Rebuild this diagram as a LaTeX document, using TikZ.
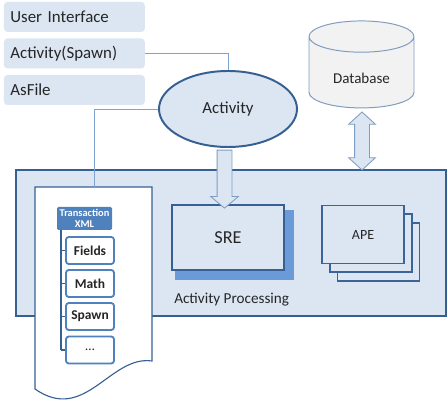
\documentclass[tikz,border=0pt]{standalone}
\usepackage{fontspec}
\setmainfont{Carlito}
\usetikzlibrary{positioning, arrows.meta, shapes.geometric, shapes.arrows, calc}
\definecolor{lightbox}{HTML}{DCE6F2}
\definecolor{border}{HTML}{376092}
\definecolor{midblue}{HTML}{4F81BD}
\definecolor{shadowblue}{HTML}{6A9BD8}
\definecolor{wire}{HTML}{7FA3D0}
\definecolor{thinline}{HTML}{7F9CC3}
\definecolor{dbfill}{HTML}{F2F2F2}
\definecolor{ink}{HTML}{262626}

\begin{document}
\begin{tikzpicture}[
  font=\fontsize{10.8}{12}\selectfont,
  text=ink,
  menubox/.style={rectangle, rounded corners=2.5pt, fill=lightbox, text width=3.2cm, inner xsep=0.16cm, inner ysep=0pt, minimum height=0.75cm, align=left, font=\fontsize{12}{14}\selectfont},
  wireline/.style={draw=wire, line width=0.7pt},
  blockarrow/.style={draw=thinline, fill=lightbox, line width=0.6pt, inner sep=0pt},
  itembox/.style={rectangle, rounded corners=2pt, draw=midblue, fill=white, line width=1.3pt, minimum width=1.2cm, minimum height=0.675cm, inner sep=0pt, font=\fontsize{9.6}{11}\selectfont\bfseries},
  apebox/.style={rectangle, draw=border!85!midblue, fill=lightbox, line width=0.8pt, minimum width=2.05cm, minimum height=1.45cm, inner sep=0pt}
]
  \useasboundingbox (0,0) rectangle (11.2,10.05);
  \fill[white] (0,0) rectangle (11.2,10.05);
  % menu
  \node[menubox] (userif) at (1.86,9.625) {User Interface};
  \node[menubox] (spawn) at (1.86,8.7125) {Activity(Spawn)};
  \node[menubox] (asfile) at (1.86,7.80) {AsFile};
  % processing panel
  \node[rectangle, draw=border, fill=lightbox, line width=1.2pt, minimum width=10.75cm, minimum height=3.65cm, inner sep=0pt] (panel) at (5.775,3.975) {};
  \node[anchor=west, inner sep=0pt] (proclbl) at (4.35,2.55) {Activity Processing};
  % document
  \draw[draw=border, fill=white, line width=0.8pt] (0.875,5.375) -- (3.80,5.375) -- (3.80,1.025)
    .. controls (2.75,1.175) and (2.125,-0.55) .. (0.875,0.325) -- cycle;
  \coordinate (doctop) at (2.35,5.375);
  \node[rectangle, rounded corners=1pt, fill=midblue, minimum width=1.375cm, minimum height=0.575cm, inner sep=0pt, align=center, text=white, font=\fontsize{7.4}{8}\selectfont\bfseries] (xml) at (2.1125,4.5875) {Transaction\\XML};
  \coordinate (trunk) at (1.525,4.30);
  \foreach \name/\yy [count=\r from 0] in {Fields/3.7875, Math/2.9625, Spawn/2.1375, {\mdseries\ldots}/1.30} {
    \node[itembox] (item\r) at (2.25,\yy) {\name};
    \draw[draw=border, line width=1.1pt] (trunk |- item\r.west) -- (item\r.west);
  }
  \draw[draw=border, line width=1.1pt] (trunk) -- (trunk |- item3.west);
  % engines
  \fill[shadowblue] (4.375,4.80) rectangle (7.35,3.05);
  \node[rectangle, draw=border, fill=lightbox, line width=1.5pt, minimum width=2.80cm, minimum height=1.625cm, inner sep=0pt, font=\fontsize{13}{15}\selectfont] (sre) at (5.70,4.1125) {SRE};
  \node[apebox] (apeC) at (9.4625,3.75) {};
  \node[apebox] (apeB) at (9.275,3.975) {};
  \node[apebox, font=\fontsize{10}{12}\selectfont] (ape) at (9.075,4.18) {APE};
  % activity and database
  \node[ellipse, draw=border, fill=lightbox, line width=1.4pt, minimum width=3.45cm, minimum height=1.90cm, inner sep=0pt, font=\fontsize{12}{14}\selectfont] (activity) at (5.70,7.325) {Activity};
  \node[cylinder, shape border rotate=90, aspect=0.55, draw=thinline, fill=dbfill, line width=0.7pt, minimum width=2.625cm, minimum height=2.175cm, inner sep=0pt, font=\fontsize{10.7}{12}\selectfont] (db) at (9.0375,8.2375) {\raisebox{-0.27cm}[0pt][0pt]{Database}};
  % connectors
  \draw[wireline] (spawn.east) -| (activity.north);
  \draw[wireline] (activity.west) -| (doctop);
  \node[single arrow, blockarrow, rotate=-90, minimum height=1.45cm, minimum width=0.675cm, single arrow head extend=0.1625cm, single arrow tip angle=100, single arrow head indent=0pt, inner ysep=0.175cm] (down) at (5.6125,5.65) {};
  \node[double arrow, blockarrow, rotate=90, minimum height=1.45cm, minimum width=0.65cm, double arrow head extend=0.15cm, double arrow tip angle=95, double arrow head indent=0pt, inner ysep=0.175cm] (dblink) at (9.05,6.525) {};
\end{tikzpicture}
\end{document}
